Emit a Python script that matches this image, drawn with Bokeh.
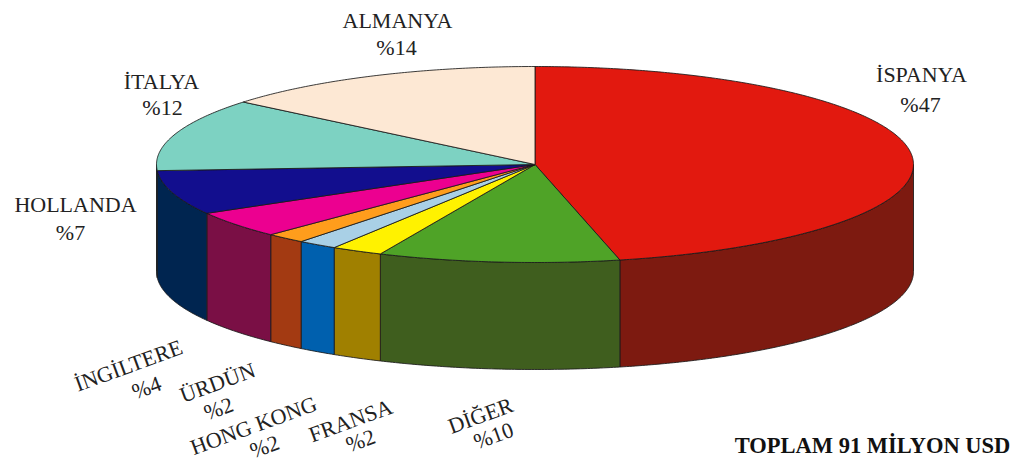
import numpy as np
from bokeh.plotting import figure
from bokeh.models import Range1d, ColumnDataSource
from bokeh.core.properties import value
from bokeh.embed import file_html
from bokeh.resources import INLINE

# slice shares as measured on the drawing (clockwise from the top)
countries = ["İSPANYA", "DİĞER", "FRANSA", "HONG KONG", "ÜRDÜN", "İNGİLTERE", "HOLLANDA", "İTALYA", "ALMANYA"]
shares = [46.4, 10.3, 2.2, 1.7, 1.7, 4.4, 7.3, 12.0, 14.0]
printed = ["%47", "%10", "%2", "%2", "%2", "%4", "%7", "%12", "%14"]
top_colors = ["#E2190F", "#4FA327", "#FFF200", "#A9D0E6", "#FF9D1C", "#EC0090", "#120E8E", "#7DD2C2", "#FDE8D4"]
wall_colors = ["#7D1A10", "#3F5E1E", "#A08000", "#0060AE", "#A33A12", "#7A0F45", "#002550", "#002550", "#FDE8D4"]

name_x = [921, 480, 350, 253, 217, 128, 75, 161, 397]
name_y = [74, 415, 420, 425, 382, 365, 204, 81, 20]
pct_x = [920, 493, 360, 264, 218, 146, 70, 162, 396]
pct_y = [104, 435, 440, 446, 408, 387, 232, 107, 47]
tilt = [0, 20, 20, 20, 20, 20, 0, 0, 0]
total_label = "TOPLAM 91 MİLYON USD"

CX, CY, RX, RY, DEPTH = 534.5, 164, 378.5, 98, 107


def rim(a0, a1, dy=0.0):
    t = np.radians(np.linspace(a0, a1, max(int(abs(a1 - a0)) * 2, 2) + 1))
    return CX + RX * np.sin(t), CY - RY * np.cos(t) + dy


p = figure(width=1015, height=464, x_range=Range1d(0, 1015), y_range=Range1d(464, 0),
           output_backend="svg", toolbar_location=None, min_border=0,
           background_fill_color="white", border_fill_color="white")
p.axis.visible = False
p.grid.visible = False
p.outline_line_color = None

edges = np.concatenate([[0], np.cumsum(shares)]) / np.sum(shares) * 360

wx, wy, wc = [], [], []
for i, c in enumerate(wall_colors):
    a0, a1 = max(edges[i], 90), min(edges[i + 1], 270)
    if a1 <= a0:
        continue
    x0, y0 = rim(a0, a1)
    x1, y1 = rim(a1, a0, DEPTH)
    wx.append(np.concatenate([x0, x1]))
    wy.append(np.concatenate([y0, y1]))
    wc.append(c)
p.patches(wx, wy, fill_color=wc, line_color="#1a1a1a", line_width=1, line_alpha=0.85)

tx, ty = [], []
for i in range(len(shares)):
    x0, y0 = rim(edges[i], edges[i + 1])
    tx.append(np.concatenate([[CX], x0]))
    ty.append(np.concatenate([[CY], y0]))
p.patches(tx, ty, fill_color=top_colors, line_color="#1a1a1a", line_width=1, line_alpha=0.85)

src = ColumnDataSource(dict(nx=name_x, ny=name_y, px=pct_x, py=pct_y, name=countries, pct=printed, a=tilt))
FONT = value("Liberation Serif")
p.text("nx", "ny", text="name", angle="a", angle_units="deg", source=src, text_font=FONT,
       text_font_size="22px", text_align="center", text_baseline="middle", text_color="#222222")
p.text("px", "py", text="pct", angle="a", angle_units="deg", source=src, text_font=FONT,
       text_font_size="22px", text_align="center", text_baseline="middle", text_color="#222222")
p.text([872], [445], text=[total_label], text_font=FONT, text_font_size="22.5px", text_font_style="bold",
       text_align="center", text_baseline="middle", text_color="#111111")

open("out.html", "w").write(file_html(p, INLINE))
